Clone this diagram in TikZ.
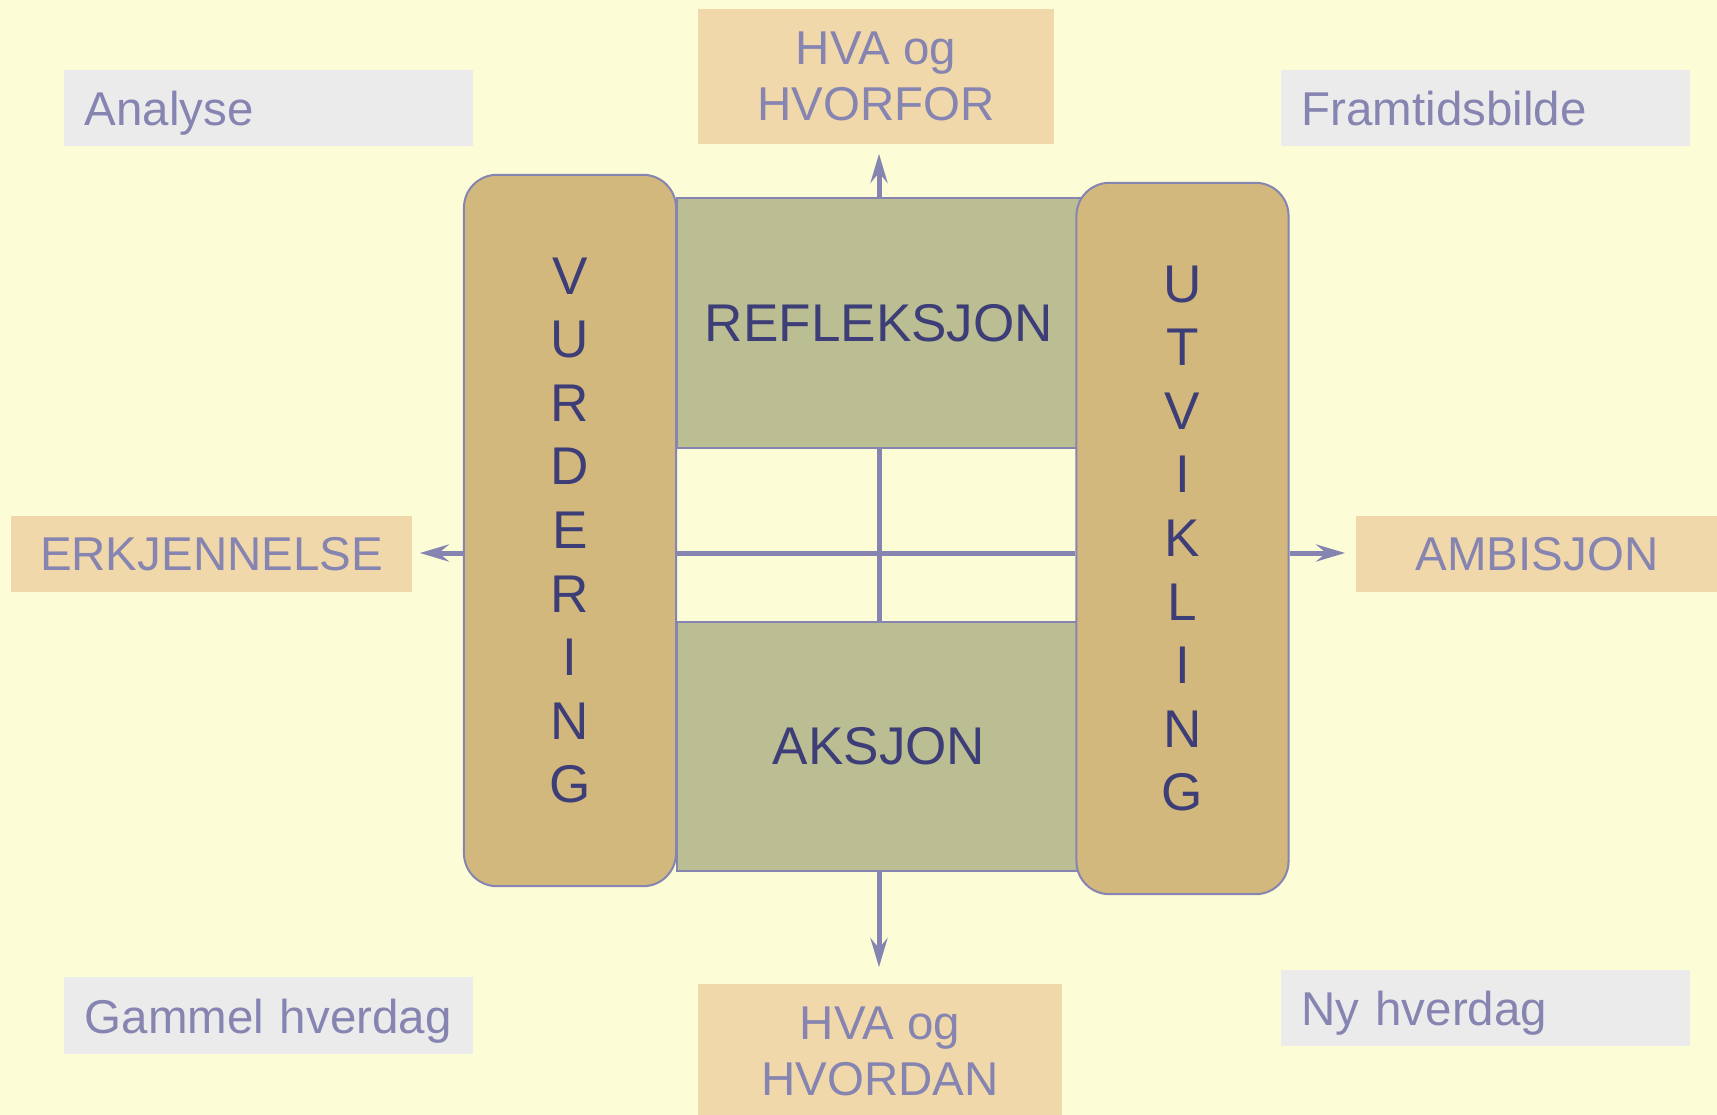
\documentclass[tikz,border=0pt]{standalone}
\usepackage{fontspec}
\setmainfont{Liberation Sans}
\usepackage{tikz}
\usepackage{xcolor}
\usetikzlibrary{arrows.meta,calc,positioning,shapes}
\definecolor{bgcol}{RGB}{252,253,214}
\definecolor{greycol}{RGB}{235,235,235}
\definecolor{tancol}{RGB}{241,216,170}
\definecolor{barcol}{RGB}{210,184,124}
\definecolor{greencol}{RGB}{187,190,146}
\definecolor{linecol}{RGB}{134,132,177}
\definecolor{darkcol}{RGB}{61,61,119}
\tikzset{%
	greybox/.style = {fill=greycol, text=linecol, anchor=west, minimum height=0.76cm, text width=3.67cm, inner xsep=0.21cm, text height=0.35cm, text depth=0cm, align=left, font=\fontsize{13.5}{15.9}\selectfont},
	tanbox/.style  = {fill=tancol, text=linecol, minimum height=0.76cm, align=center, font=\fontsize{13.5}{15.9}\selectfont},
	barbox/.style  = {draw=linecol, line width=0.57pt, fill=barcol, rounded corners=0.33cm, text=darkcol, minimum width=2.12cm, minimum height=7.11cm, align=center, font=\fontsize{15.1}{18.07}\selectfont},
	fieldbox/.style= {draw=linecol, line width=0.57pt, fill=greencol, text=darkcol, minimum width=4.04cm, minimum height=2.49cm, font=\fontsize{15.1}{18.07}\selectfont},
	link/.style    = {draw=linecol, line width=1.42pt},
	arrow/.style   = {link, -{Stealth[length=0.29cm, width=0.17cm, inset=0.1cm]}},
}
\begin{document}
\begin{tikzpicture}[x=0.01cm, y=-0.01cm]
	\fill[bgcol] (0,0) rectangle (1717,1115);
	\useasboundingbox (0,0) rectangle (1717,1115);
	
	% corner labels
	\node[greybox] (analyse)  at (63,108)    {Analyse};
	\node[greybox] (framtid)  at (1280,108)  {Framtidsbilde};
	\node[greybox] (gammel)   at (63,1015.5) {Gammel~hverdag};
	\node[greybox] (ny)       at (1280,1008) {Ny hverdag};
	
	% outcome labels
	\node[tanbox, minimum width=3.56cm, minimum height=1.35cm] (hvorfor) at (876,76.5)   {HVA og\\HVORFOR};
	\node[tanbox, minimum width=3.64cm, minimum height=1.35cm] (hvordan) at (880,1051.5) {HVA og\\HVORDAN};
	\node[tanbox, minimum width=4.01cm] (erkj)     at (211.5,554) {ERKJENNELSE};
	\node[tanbox, minimum width=3.62cm] (ambisjon) at (1537,554)  {AMBISJON};
	
	% middle fields
	\node[fieldbox] (refleksjon) at (879,323)   {REFLEKSJON};
	\node[fieldbox] (aksjon)     at (879,746.5) {AKSJON};
	\coordinate (mid) at (879,553);
	\draw[link] (refleksjon.south) -- (aksjon.north);
	
	% side bars
	\node[barbox] (vurdering) at (570,530.5)  {V\\U\\R\\D\\E\\R\\I\\N\\G};
	\node[barbox] (utvikling) at (1182.5,538.5) {U\\T\\V\\I\\K\\L\\I\\N\\G};
	\draw[link] (mid -| vurdering.east) -- (mid -| utvikling.west);
	
	% arrows out
	\draw[arrow, shorten >=0.09cm] (refleksjon.north) -- (refleksjon.north |- hvorfor.south);
	\draw[arrow, shorten >=0.16cm] (aksjon.south) -- (aksjon.south |- hvordan.north);
	\draw[arrow, shorten >=0.07cm] (mid -| vurdering.west) -- (mid -| erkj.east);
	\draw[arrow, shorten >=0.10cm] (mid -| utvikling.east) -- (mid -| ambisjon.west);
\end{tikzpicture}
\end{document}
